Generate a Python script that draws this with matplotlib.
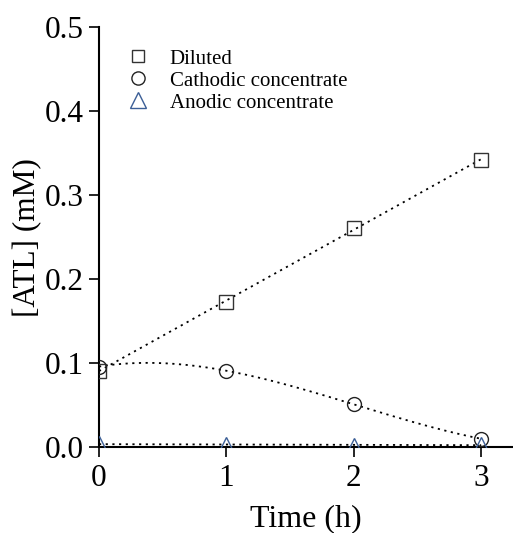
import numpy as np
import matplotlib
matplotlib.use("Agg")
import matplotlib.pyplot as plt

plt.rcParams['font.family'] = ['Liberation Serif', 'DejaVu Serif']

time_h = [0, 1, 2, 3]
diluted = [0.091, 0.173, 0.261, 0.342]
cathodic = [0.096, 0.091, 0.051, 0.010]
anodic = [0.004, 0.003, 0.002, 0.003]

fig = plt.figure(figsize=(5.13, 5.33), dpi=100)
ax = fig.add_axes([0.193, 0.161, 0.807, 0.788])

t = np.array(time_h, dtype=float)
xs = np.linspace(0, 3, 200)
fit_d = np.polyfit(t, diluted, 1)
fit_c = np.polyfit(t, cathodic, 3)
fit_a = np.polyfit(t, anodic, 1)
ls = (0, (1.2, 2.5))
for fit in (fit_d, fit_c, fit_a):
    ax.plot(xs, np.polyval(fit, xs), color='black', lw=1.3, linestyle=ls, zorder=2)

ax.plot(time_h, diluted, linestyle='none', marker='s', ms=9.5, mfc='none',
        mec='#333333', mew=1.0, label='Diluted', zorder=3)
ax.plot(time_h, cathodic, linestyle='none', marker='o', ms=10, mfc='none',
        mec='#222222', mew=1.0, label='Cathodic concentrate', zorder=3)
ax.plot(time_h, anodic, linestyle='none', marker='^', ms=11.5, mfc='none',
        mec='#3b5e96', mew=1.0, label='Anodic concentrate', zorder=3)

ax.set_xlim(0, 3.25)
ax.set_ylim(0, 0.5)
ax.set_xticks([0, 1, 2, 3])
ax.set_yticks([0.0, 0.1, 0.2, 0.3, 0.4, 0.5])
ax.set_yticklabels(['0.0', '0.1', '0.2', '0.3', '0.4', '0.5'])
ax.spines['top'].set_visible(False)
ax.spines['right'].set_visible(False)
for s in ('left', 'bottom'):
    ax.spines[s].set_linewidth(1.5)
ax.tick_params(direction='out', length=7, width=1.2, labelsize=22.5)
ax.tick_params(axis='y', pad=4)
ax.tick_params(axis='x', pad=5)
ax.set_xlabel('Time (h)', fontsize=23, labelpad=8)
ax.set_ylabel('[ATL] (mM)', fontsize=22.5, labelpad=2)

leg = ax.legend(loc='upper left', bbox_to_anchor=(0.05, 0.968), frameon=False,
                fontsize=15, handletextpad=1.0, labelspacing=0.12,
                handlelength=1.0, borderaxespad=0, markerscale=0.95)

fig.savefig('out.png', dpi=100)
